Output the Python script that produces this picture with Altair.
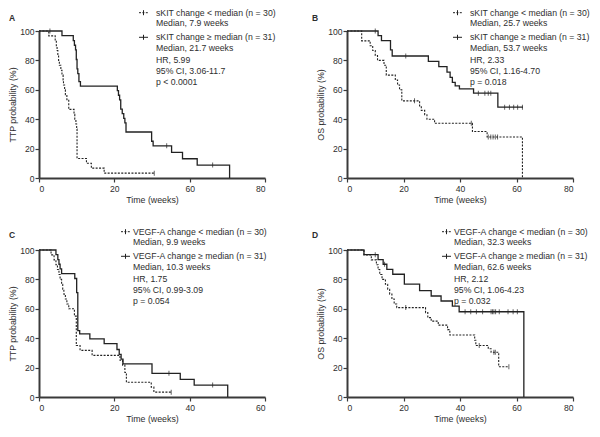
import altair as alt
import pandas as pd

INK = "#222222"
TXT = "#2e2e2e"
FONT = "Liberation Sans"

# ---------------- Panel A (sKIT, TTP) ----------------
a_lo_t = [0, 2.6, 4.3, 4.6, 4.8, 5.0, 5.2, 5.4, 5.8, 6.1, 6.4, 6.5, 6.8, 7.0, 7.4, 7.9, 9.3, 9.5, 9.8, 10.0, 10.1, 12.6, 13.9, 17.3, 30.6]
a_lo_s = [100, 96.7, 93.3, 90.0, 86.7, 83.3, 80.0, 76.7, 73.3, 70.0, 66.7, 63.3, 60.0, 56.7, 53.3, 46.7, 43.3, 40.0, 36.7, 33.3, 13.3, 10.0, 6.7, 3.3, 3.3]
a_lo_ct = [2.9, 30.6]
a_lo_cs = [100, 3.3]
a_hi_t = [0, 6.1, 9.1, 9.4, 9.7, 9.9, 10.1, 10.3, 10.6, 11.0, 20.8, 21.1, 21.4, 21.7, 22.1, 22.5, 22.8, 23.1, 29.9, 30.3, 35.2, 38.1, 42.0, 50.6]
a_hi_s = [100, 96.8, 93.5, 90.3, 87.1, 80.6, 74.2, 71.0, 65.6, 62.5, 59.4, 56.3, 53.1, 46.9, 43.8, 40.6, 37.5, 31.3, 25.0, 21.9, 17.5, 13.1, 8.8, 0]
a_hi_ct = [33.9, 46.1]
a_hi_cs = [21.9, 8.8]
a_xticks = [0, 20, 40, 60]
a_xlabels = ["0", "20", "60", "80"]
a_text = ["sKIT change < median (n = 30)", "Median, 7.9 weeks",
          "sKIT change \u2265 median (n = 31)", "Median, 21.7 weeks",
          "HR, 5.99", "95% CI, 3.06-11.7", "p < 0.0001"]

# ---------------- Panel B (sKIT, OS) ----------------
b_lo_t = [0, 5.2, 8.2, 9.1, 10.0, 10.8, 13.1, 13.9, 17.1, 17.9, 18.6, 19.4, 25.7, 26.3, 27.5, 28.3, 31.0, 44.4, 49.6, 62.1]
b_lo_s = [100, 93.3, 90.0, 86.7, 83.3, 80.0, 76.7, 70.0, 66.7, 63.3, 60.0, 52.5, 49.0, 46.0, 43.0, 40.0, 37.2, 31.6, 27.9, 0]
b_lo_ct = [23.9, 44.0, 50.0, 50.9, 51.7, 52.5, 53.3]
b_lo_cs = [52.5, 37.2, 27.9, 27.9, 27.9, 27.9, 27.9]
b_hi_t = [0, 11.0, 12.2, 15.4, 16.0, 28.8, 32.5, 35.4, 36.5, 37.3, 38.3, 39.8, 44.8, 53.4, 62.3]
b_hi_s = [100, 96.8, 93.5, 87.1, 83.0, 79.3, 75.8, 72.0, 68.5, 65.0, 62.7, 60.6, 57.7, 48.2, 48.2]
b_hi_ct = [10.0, 20.8, 46.5, 48.8, 50.0, 50.9, 55.8, 57.5, 59.0, 60.4, 62.1]
b_hi_cs = [100, 83.0, 57.7, 57.7, 57.7, 57.7, 48.2, 48.2, 48.2, 48.2, 48.2]
b_xticks = [0, 20, 40, 60, 80]
b_xlabels = ["0", "20", "40", "60", "80"]
b_text = ["sKIT change < median (n = 30)", "Median, 25.7 weeks",
          "sKIT change \u2265 median (n = 31)", "Median, 53.7 weeks",
          "HR, 2.33", "95% CI, 1.16-4.70", "p = 0.018"]

# ---------------- Panel C (VEGF-A, TTP) ----------------
c_lo_t = [0, 3.2, 4.0, 4.5, 4.9, 5.3, 5.6, 6.0, 6.3, 6.6, 7.0, 7.4, 7.9, 9.4, 9.9, 10.9, 14.1, 21.5, 22.2, 22.8, 23.2, 29.8, 30.5, 35.1]
c_lo_s = [100, 96.7, 93.3, 90.0, 86.7, 83.3, 80.0, 76.7, 73.3, 70.0, 66.7, 63.3, 60.0, 55.0, 35.0, 31.7, 28.3, 25.0, 21.7, 16.7, 10.0, 6.7, 3.3, 3.3]
c_lo_ct = [35.1]
c_lo_cs = [3.3]
c_hi_t = [0, 4.5, 5.0, 5.3, 5.6, 6.0, 9.5, 10.0, 10.3, 10.8, 13.5, 17.3, 20.7, 21.3, 21.8, 22.3, 30.0, 37.5, 41.2, 50.1]
c_hi_s = [100, 96.8, 93.5, 90.3, 87.1, 83.9, 80.6, 71.0, 45.2, 42.9, 39.6, 36.3, 32.3, 29.0, 25.8, 22.6, 16.1, 12.0, 8.1, 0]
c_hi_ct = [34.5, 46.1]
c_hi_cs = [16.1, 8.1]
c_xticks = [0, 20, 40, 60]
c_xlabels = ["0", "20", "40", "60"]
c_text = ["VEGF-A change < median (n = 30)", "Median, 9.9 weeks",
          "VEGF-A change \u2265 median (n = 31)", "Median, 10.3 weeks",
          "HR, 1.75", "95% CI, 0.99-3.09", "p = 0.054"]

# ---------------- Panel D (VEGF-A, OS) ----------------
d_lo_t = [0, 6.0, 8.6, 10.4, 11.0, 11.6, 12.4, 13.6, 14.4, 15.1, 15.9, 16.7, 17.6, 27.8, 28.6, 29.8, 32.3, 35.6, 36.4, 45.2, 45.6, 50.0, 51.0, 53.7, 57.3]
d_lo_s = [100, 96.7, 93.3, 90.0, 86.7, 83.3, 80.0, 76.7, 73.3, 70.0, 66.7, 63.3, 60.8, 57.4, 54.0, 51.6, 48.9, 45.8, 42.2, 38.6, 35.0, 32.8, 30.4, 20.6, 20.6]
d_lo_ct = [20.8, 46.8, 52.0, 52.5, 57.3]
d_lo_cs = [60.8, 35.0, 30.4, 30.4, 20.6]
d_hi_t = [0, 6.0, 11.0, 12.8, 14.1, 16.2, 20.3, 25.7, 29.8, 33.3, 37.3, 39.7, 62.6]
d_hi_s = [100, 96.8, 93.5, 90.3, 86.8, 83.5, 76.8, 72.3, 68.7, 65.3, 61.8, 58.0, 0]
d_hi_ct = [10.0, 13.3, 41.8, 43.8, 45.8, 48.0, 51.0, 51.5, 52.0, 52.6, 53.9, 57.0, 58.8, 60.3]
d_hi_cs = [96.8, 90.3, 58.0, 58.0, 58.0, 58.0, 58.0, 58.0, 58.0, 58.0, 58.0, 58.0, 58.0, 58.0]
d_xticks = [0, 20, 40, 60, 80]
d_xlabels = ["0", "20", "40", "60", "80"]
d_text = ["VEGF-A change < median (n = 30)", "Median, 32.3 weeks",
          "VEGF-A change \u2265 median (n = 31)", "Median, 62.6 weeks",
          "HR, 2.12", "95% CI, 1.06-4.23", "p = 0.032"]

W = 226
H = 147
ONE = pd.DataFrame({"k": [0]})
LINE_Y = [-18.3, -8.0, 6.3, 16.6, 29.0, 40.0, 51.0]
DASH = [2, 1.4]


def text_layer(s, x, y, bold=False, size=8.7):
    return alt.Chart(ONE).mark_text(
        align="left", baseline="middle", font=FONT, fontSize=size,
        fontWeight="bold" if bold else "normal", color=TXT
    ).encode(x=alt.value(x), y=alt.value(y), text=alt.value(s))


def sample_layers(xc, y, dashed):
    kw = dict(color=INK, strokeWidth=1)
    if dashed:
        kw["strokeDash"] = DASH
    seg = alt.Chart(ONE).mark_rule(**kw).encode(
        x=alt.value(xc - 4.5), x2=alt.value(xc + 4.5), y=alt.value(y))
    tk = alt.Chart(ONE).mark_rule(color=INK, strokeWidth=1).encode(
        x=alt.value(xc), y=alt.value(y - 2.5), y2=alt.value(y + 2.5))
    return [seg, tk]


def panel(lo_t, lo_s, hi_t, hi_s, lo_ct, lo_cs, hi_ct, hi_cs, xmax, xticks, xlabels,
          ytitle, letter, letter_xy, lines, text_x, sample_x):
    expr = "[" + ",".join("'%s'" % l for l in xlabels) + "][indexof([" + \
        ",".join(str(v) for v in xticks) + "], datum.value)]"
    xenc = alt.X("t:Q", scale=alt.Scale(domain=[0, xmax], nice=False),
                 axis=alt.Axis(values=xticks, labelExpr=expr, title="Time (weeks)",
                               labelPadding=2, titlePadding=3))
    yenc = alt.Y("s:Q", scale=alt.Scale(domain=[0, 100], nice=False),
                 axis=alt.Axis(values=[0, 20, 40, 60, 80, 100], title=ytitle,
                               labelPadding=1, titlePadding=2))
    hi = alt.Chart(pd.DataFrame({"t": hi_t, "s": hi_s})).mark_line(
        interpolate="step-after", color=INK, strokeWidth=1.3).encode(x=xenc, y=yenc)
    lo = alt.Chart(pd.DataFrame({"t": lo_t, "s": lo_s})).mark_line(
        interpolate="step-after", color=INK, strokeWidth=1.1, strokeDash=DASH).encode(x=xenc, y=yenc)
    hic = alt.Chart(pd.DataFrame({"t": hi_ct, "s": hi_cs})).mark_tick(
        orient="vertical", size=5, thickness=1, color=INK).encode(x=xenc, y=yenc)
    loc = alt.Chart(pd.DataFrame({"t": lo_ct, "s": lo_cs})).mark_tick(
        orient="vertical", size=5, thickness=1, color=INK).encode(x=xenc, y=yenc)
    ann = [text_layer(letter, letter_xy[0], letter_xy[1], bold=True, size=8.5)]
    ann += sample_layers(sample_x, LINE_Y[0], True)
    ann += sample_layers(sample_x, LINE_Y[2], False)
    for s, y in zip(lines, LINE_Y):
        ann.append(text_layer(s, text_x, y))
    return alt.layer(hi, lo, hic, loc, *ann).properties(width=W, height=H)


pA = panel(a_lo_t, a_lo_s, a_hi_t, a_hi_s, a_lo_ct, a_lo_cs, a_hi_ct, a_hi_cs, 60, a_xticks, a_xlabels,
           "TTP probability (%)", "A", (-30, -13), a_text, W - 109, W - 121.5)
pB = panel(b_lo_t, b_lo_s, b_hi_t, b_hi_s, b_lo_ct, b_lo_cs, b_hi_ct, b_hi_cs, 80, b_xticks, b_xlabels,
           "OS probability (%)", "B", (-35, -13), b_text, W - 103, W - 115.5)
pC = panel(c_lo_t, c_lo_s, c_hi_t, c_hi_s, c_lo_ct, c_lo_cs, c_hi_ct, c_hi_cs, 60, c_xticks, c_xlabels,
           "TTP probability (%)", "C", (-30, -15), c_text, W - 132, W - 139.5)
pD = panel(d_lo_t, d_lo_s, d_hi_t, d_hi_s, d_lo_ct, d_lo_cs, d_hi_ct, d_hi_cs, 80, d_xticks, d_xlabels,
           "OS probability (%)", "D", (-35, -15), d_text, W - 119, W - 126.5)

chart = alt.concat(pA, pB, pC, pD, columns=2, spacing={"row": 72, "column": 82},
                   bounds="flush").properties(padding=0).configure_view(stroke=None).configure_axis(
    grid=False, domainColor="#3a3a3a", domainWidth=2, tickColor="#3a3a3a", tickWidth=1.2,
    tickSize=4, labelFont=FONT, labelFontSize=8.6, labelColor=TXT,
    titleFont=FONT, titleFontSize=8.8, titleFontWeight="normal", titleColor=TXT)

chart.save("out.html", embed_options={"renderer": "svg", "actions": False})
